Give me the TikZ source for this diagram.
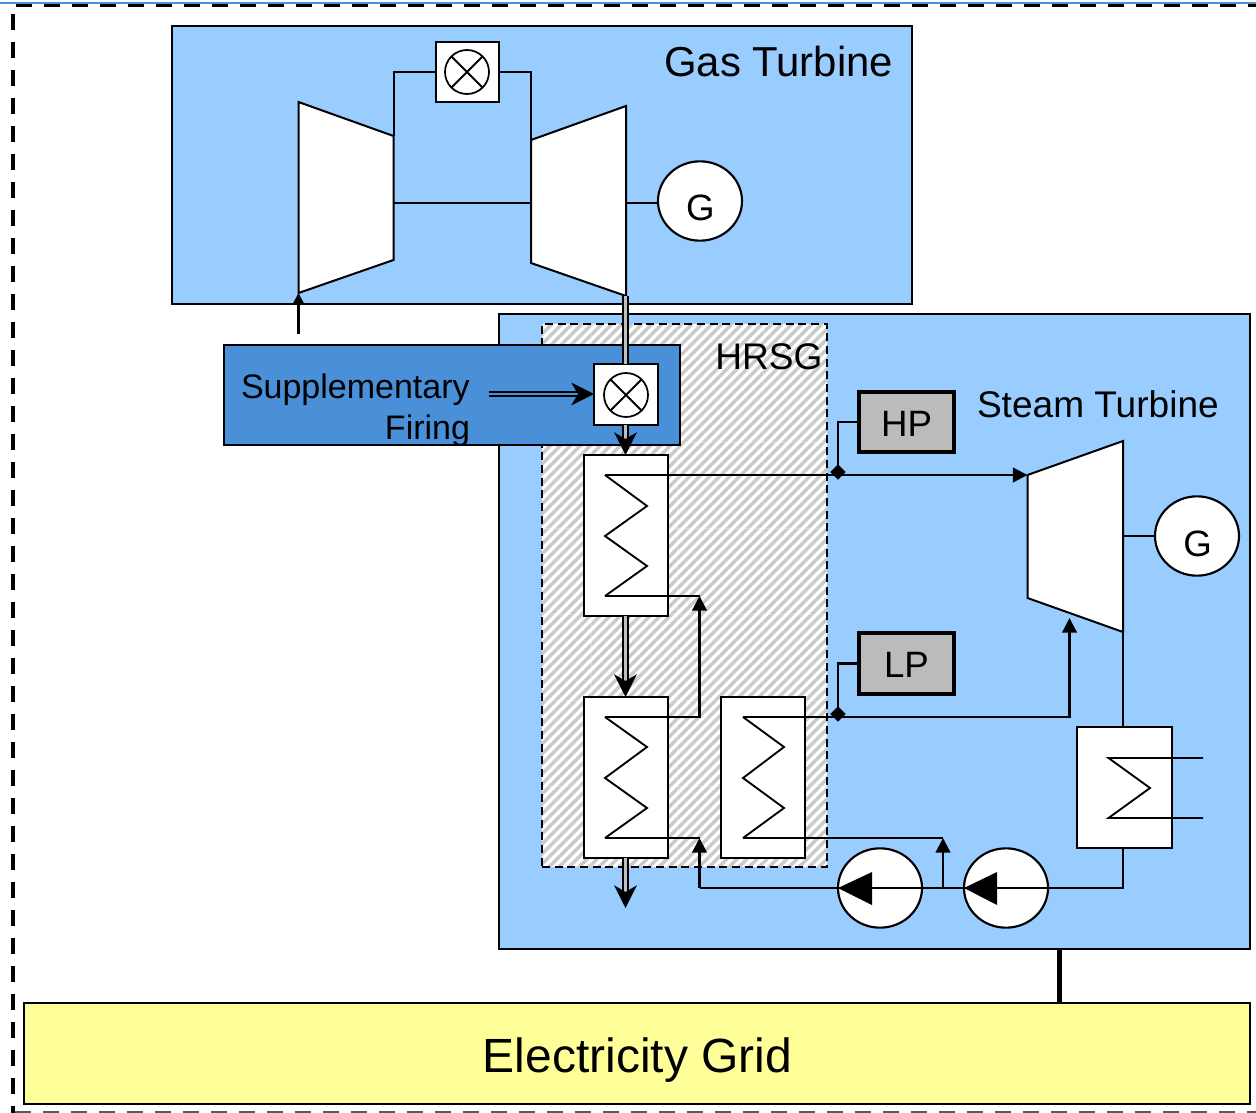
\documentclass[tikz,border=0pt]{standalone}
\usepackage{fontspec}
\setmainfont{Liberation Sans}
\usetikzlibrary{arrows.meta,shapes.geometric,calc}
\definecolor{panelblue}{HTML}{99CCFF}
\definecolor{firingblue}{HTML}{4A90D9}
\definecolor{gridyellow}{HTML}{FFFF99}
\definecolor{drumgray}{HTML}{BBBBBB}
\definecolor{hatchgray}{HTML}{CACACA}
\newcommand{\mkbox}[7]{%
  \pgfmathsetmacro{\bw}{(#5-#3)*0.75}\pgfmathsetmacro{\bh}{(#6-#4)*0.75}%
  \node[#2,minimum width=\bw pt,minimum height=\bh pt] (#1) at ({(#3+#5)/2},{(#4+#6)/2}) {#7};}
\tikzset{
  x=0.75pt,y=-0.75pt,
  every node/.style={inner sep=0pt,outer sep=0pt},
  panel/.style={draw=black,line width=1.5pt,rectangle},
  whitebox/.style={draw=black,fill=white,line width=1.6pt,rectangle},
  drum/.style={draw=black,fill=drumgray,line width=2.3pt,rectangle},
  disc/.style={draw=black,fill=white,line width=1.6pt,ellipse,minimum width=63pt,minimum height=59.5pt},
  mixer/.style={draw=black,fill=white,line width=1.3pt,circle,minimum size=33pt},
  pipe/.style={line width=1.7pt,draw=black},
  thin pipe/.style={line width=1.5pt,draw=black},
  drumpipe/.style={line width=2pt,draw=black},
  flow/.style={pipe,-{Triangle[length=11pt,width=11pt]}},
  gasflow/.style={draw=black,line width=1.6pt,double=#1,double distance=1.8pt,-{Stealth[length=17pt,width=17pt,inset=5pt]}},
  gasline/.style={draw=black,line width=1.6pt,double=#1,double distance=1.8pt},
  machine/.style={draw=black,fill=white,line width=1.5pt,line join=miter},
  zig/.style={draw=black,line width=1.4pt,line join=miter},
  lbl/.style={font=\fontsize{#1}{#1}\selectfont},
  dot/.style={draw=black,fill=black,diamond,aspect=1,minimum size=11pt},
  frame/.style={draw=black,line width=3pt,dash pattern=on 12pt off 9pt},
}
\begin{document}
\begin{tikzpicture}
\useasboundingbox (0,0) rectangle (1256,1113);
\fill[white] (0,0) rectangle (1256,1113);
% outer frame
\draw[firingblue,line width=1.8pt] (0,3) -- (1256,3);
\draw[frame,line width=2.6pt] (16,5.5) -- (1256,5.5);
\draw[frame] (13,14) -- (13,1113);
\draw[frame,draw=black!65,line width=2pt] (15,1112) -- (1256,1112);
% panels
\mkbox{gt}{panel,fill=panelblue}{172}{26}{911.5}{303.5}{}
\mkbox{st}{panel,fill=panelblue}{499}{314}{1250}{948.5}{}
% HRSG hatch
\begin{scope}
\clip (542,324) rectangle (827,867);
\fill[white] (542,324) rectangle (827,867);
\foreach \k in {0,...,90} {
  \draw[hatchgray,line width=2.6pt] ({542+\k*10},324) -- ({542+\k*10-600},924);
}
\foreach \sx in {591,677,763} { \draw[white,opacity=.3,line width=.5pt] (\sx,324) -- (\sx,867); }
\foreach \sy in {356,442,528,614,700,786} { \draw[white,opacity=.3,line width=.5pt] (542,\sy) -- (827,\sy); }
\end{scope}
\mkbox{hrsg}{rectangle,draw=black,line width=1.2pt,dash pattern=on 6pt off 3.5pt}{542}{324}{827}{867}{}
% firing panel
\mkbox{sf}{panel,fill=firingblue}{224}{345}{679.5}{445}{}
\mkbox{grid}{panel,fill=gridyellow}{23.5}{1003}{1250}{1104}{}
\node[lbl=36] (gridl) at (637.5,1060.5) {Electricity Grid};
% gas turbine
\coordinate (c1) at (298.5,102); \coordinate (c2) at (393.5,136); \coordinate (c3) at (393.5,260); \coordinate (c4) at (298.5,293);
\coordinate (t1) at (531,140); \coordinate (t2) at (626,106); \coordinate (t3) at (626,296); \coordinate (t4) at (531,263);
\mkbox{cc}{whitebox}{436}{42}{499}{102}{}
\node[mixer] (ccm) at (467,72) {};
\draw[thin pipe] (ccm.45) -- (ccm.225) (ccm.135) -- (ccm.315);
\draw[thin pipe] (c2) |- (cc.west);
\draw[thin pipe] (cc.east) -| (t1);
\coordinate (sh1) at (393,203); \coordinate (sh2) at (531,203); \coordinate (sh3) at (626,203);
\node[disc] (g1) at (700,201) {};
\node[lbl=27.5] (g1l) at (700.5,208) {G};
\draw[thin pipe] (sh1) -- (sh2);
\draw[thin pipe] (sh3) -- (sh3 -| g1.west);
\coordinate (airin) at (298.5,334);
\draw[machine] (c1) -- (c2) -- (c3) -- (c4) -- cycle;
\draw[machine] (t1) -- (t2) -- (t3) -- (t4) -- cycle;
\draw[pipe,-{Triangle[length=8pt,width=8pt]}] (airin) -- (c4);
\node[lbl=31.4,anchor=east] (gtl) at (893,62) {Gas Turbine};
% exhaust + firing
\mkbox{df}{whitebox}{594}{364}{658}{425}{}
\node[mixer] (dfm) at (626,395) {};
\draw[thin pipe] (dfm.45) -- (dfm.225) (dfm.135) -- (dfm.315);
\mkbox{hx1}{whitebox}{584}{455}{668}{616}{}
\mkbox{hx2}{whitebox}{584}{697}{668}{858}{}
\mkbox{hx3}{whitebox}{721}{697}{805}{858}{}
\coordinate (exh) at (625.5,296);
\draw[gasline=black!25] (exh) -- (exh |- df.north);
\draw[gasflow=black!25] (df.south -| exh) -- (exh |- hx1.north);
\coordinate (fin) at (489,394);
\draw[gasflow=firingblue] (fin) -- (df.west |- fin);
\draw[gasflow=black!25] (exh |- hx1.south) -- (exh |- hx2.north);
\coordinate (stack) at (625.5,908);
\draw[gasflow=black!25] (exh |- hx2.south) -- (stack);
\node[lbl=25.5,anchor=west] (sfa) at (241,390) {Supplementary};
\node[lbl=25.5,anchor=east] (sfb) at (470,431) {Firing};
\node[lbl=27.8,anchor=east] (hrl) at (822.5,357) {HRSG};
\node[lbl=27.8,anchor=west] (stl) at (977,404) {Steam Turbine};
% coils
\coordinate (a1) at (605,475); \coordinate (a5) at (605,596);
\draw[zig] (a1) -- (647,506) -- (605,536) -- (647,566) -- (a5);
\coordinate (b1) at (605,717); \coordinate (b5) at (605,838);
\draw[zig] (b1) -- (647,747) -- (605,778) -- (647,808) -- (b5);
\coordinate (d1) at (743,717); \coordinate (d5) at (743,838);
\draw[zig] (d1) -- (784,747) -- (743,778) -- (784,808) -- (d5);
% steam turbine
\coordinate (s1) at (1027.5,475); \coordinate (s2) at (1123,441); \coordinate (s3) at (1123,632); \coordinate (s4) at (1027.5,598);
\draw[machine] (s1) -- (s2) -- (s3) -- (s4) -- cycle;
\node[disc] (g2) at (1197,536) {};
\node[lbl=27.5] (g2l) at (1197.5,544) {G};
\coordinate (sh4) at (1123,536);
\draw[thin pipe] (sh4) -- (g2.west);
\mkbox{cond}{whitebox}{1077}{727}{1172}{848}{}
\coordinate (e1) at (1108.5,758); \coordinate (e3) at (1108.5,818);
\coordinate (e1r) at (1203,758); \coordinate (e3r) at (1203,818);
\draw[zig] (e1r) -- (e1) -- (1150,788) -- (e3) -- (e3r);
\coordinate (cin) at (1123,727); \coordinate (cout) at (1123,848);
\draw[thin pipe] (s3) -- (cin);
% drums
\mkbox{hp}{drum}{859}{392}{954}{452}{}
\node[lbl=27.5] (hpl) at (906.5,424) {HP};
\mkbox{lp}{drum}{859}{633}{954}{694}{}
\node[lbl=27.5] (lpl) at (906.5,665) {LP};
\node[dot] (dhp) at (838,472) {};
\node[dot] (dlp) at (838,714) {};
\draw[drumpipe] (hp.west) -| (dhp.center);
\draw[drumpipe] (lp.west) -| (dlp.center);
% pumps
\node[disc] (p1) at (880,888) {};
\node[disc] (p2) at (1006,888) {};
\coordinate (j1) at (699.5,888);
\coordinate (j2) at (943,888);
\coordinate (j3) at (943,838);
\coordinate (j4) at (699.5,838);
\coordinate (j5) at (699.5,596);
\coordinate (j6) at (1069.5,618);
\draw[thin pipe] (cout) |- (p2.west) -- (j1);
\draw[flow] (j1) -- (j4);
\draw[flow] (j2) -- (j3);
\fill[black] (p1.west) -- (872,872) -- (872,905) -- cycle;
\fill[black] (p2.west) -- (997,872) -- (997,905) -- cycle;
% water / steam lines
\draw[flow] (a1) -- (s1);
\draw[thin pipe] (a5) -| (j5);
\draw[flow] (b1) -| (j5);
\draw[thin pipe] (b5) -- (j4);
\draw[flow] (d1) -| (j6);
\draw[thin pipe] (d5) -- (j3);
% grid link
\draw[line width=3.8pt] (st.south -| 1059.5,0) -- (grid.north -| 1059.5,0);
\end{tikzpicture}
\end{document}
